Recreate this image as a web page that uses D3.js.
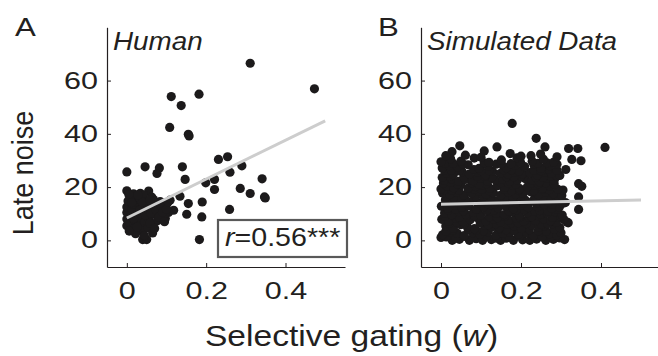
<!DOCTYPE html>
<html>
<head>
<meta charset="utf-8">
<script src="https://cdn.jsdelivr.net/npm/d3@7"></script>
<style>
  body { margin: 0; background: #fff; }
  svg text { font-family: "Liberation Sans", Arial, Helvetica, sans-serif; fill: #231f20; }
</style>
</head>
<body>
<svg id="chart" width="658" height="356"></svg>
<script>
// values
const xTicks = [0, 0.2, 0.4];
const yTicks = [0, 20, 40, 60];
const panelLetters = ['A', 'B'];
const panelTitles = ['Human', 'Simulated Data'];
const rValue = '0.56***';

// panel A: human subjects [w, late noise]
const humanData = [
  [0.311, 66.5], [0.473, 56.9], [0.112, 54], [0.182, 54.9], [0.137, 50.6], [0.108, 42.4],
  [0.155, 39.8], [0.157, 39.2], [0, 25.7], [0.046, 27.6], [0.082, 27.2], [0.076, 25.1],
  [0.14, 27.6], [0.147, 22.9], [0.231, 30.4], [0.254, 31.4], [0.29, 28], [0.26, 25.6],
  [0.341, 23.1], [0.221, 22.9], [0.199, 21.6], [0.221, 19.1], [0.286, 19.5], [0.311, 17.6],
  [0.347, 16.3], [0, 18.6], [0.017, 17.5], [0.034, 17.7], [0.055, 18.5], [0.067, 15.3],
  [0.19, 14.4], [0.155, 13.8], [0.134, 16.6], [0.109, 15.1], [0.118, 11.3], [0.097, 8.2],
  [0.151, 9.8], [0.189, 8.8], [0.259, 11.6], [0.349, 15.9], [0.183, 0.3], [0.04, 0.3],
  [0.05, 0.3], [0.105, 10.5],
  [0, 5.5], [0, 8], [0, 10.5], [0, 12.5], [0.003, 14.8], [0.008, 6.5], [0.01, 9.2],
  [0.012, 11.8], [0.015, 16], [0.018, 4.5], [0.02, 7.5], [0.024, 13.5], [0.027, 10],
  [0.03, 5.8], [0.032, 15.5], [0.035, 8.6], [0.038, 12], [0.04, 3.8], [0.042, 17],
  [0.045, 6.8], [0.048, 10.8], [0.05, 14], [0.053, 4.8], [0.056, 8], [0.06, 12.6],
  [0.063, 16.2], [0.066, 6], [0.07, 9.8], [0.073, 13.2], [0.077, 7.4], [0.08, 11],
  [0.084, 14.6], [0.088, 8.8], [0.092, 12], [0.096, 10], [0.065, 2.8], [0.044, 1.8],
  [0.022, 2.5], [0.005, 17.2], [0.1, 13.5],
  [0.006, 3.5], [0.014, 13.7], [0.026, 5], [0.033, 11.3], [0.039, 14.4], [0.047, 9.4],
  [0.052, 11.8], [0.058, 6.4], [0.061, 10.2], [0.069, 14.7], [0.074, 11.4], [0.081, 8.7],
  [0.086, 13.1], [0.09, 10.6], [0.058, 15.2], [0.028, 17], [0.017, 8.2], [0.1, 11.7],
  [0.095, 7], [0.104, 14.4], [0.07, 4.5], [0.012, 14.2]
];

// panel B: simulated subjects [w, late noise]
const simData = [
  [0, 1.1], [0.028, 0], [0.046, 0.4], [0.071, 0], [0.088, 0.6], [0.104, 0], [0.126, 0.3],
  [0.149, 0], [0.163, 0.8], [0.181, 0], [0.204, 0.2], [0.222, 0], [0.239, 0.5], [0.262, 0],
  [0.281, 0.4], [0.309, 0.3],
  [0.013, 1.3], [0.037, 0.9], [0.058, 1.5], [0.081, 1.1], [0.114, 1.4], [0.139, 0.8],
  [0.171, 1.2], [0.197, 1.6], [0.229, 1.0], [0.253, 1.3], [0.274, 1.5], [0.297, 0.9],
  [0.004, 2.1], [0.022, 3.0], [0.041, 2.6], [0.058, 1.8], [0.079, 2.9], [0.097, 2.4],
  [0.118, 3.2], [0.137, 1.9], [0.155, 2.7], [0.172, 3.1], [0.193, 2.2], [0.214, 2.8],
  [0.231, 1.7], [0.252, 3.3], [0.271, 2.5], [0.289, 2.0], [0.3, 2.9],
  [0.03, 3.9], [0.068, 4.1], [0.106, 3.6], [0.144, 4.2], [0.182, 3.7], [0.221, 4.0],
  [0.263, 3.5], [0.283, 4.3], [0.012, 3.4], [0.088, 3.8], [0.163, 4.0], [0.243, 3.6],
  [0.012, 5.4], [0.031, 4.6], [0.049, 5.9], [0.066, 5.1], [0.084, 4.4], [0.109, 5.7],
  [0.127, 5.0], [0.146, 4.7], [0.166, 6.0], [0.184, 5.3], [0.201, 4.5], [0.226, 5.8],
  [0.244, 4.9], [0.259, 5.5], [0.278, 6.2], [0.297, 4.8], [0.318, 6.6], [0.315, 6.9],
  [0.021, 6.4], [0.058, 6.1], [0.098, 6.6], [0.137, 6.2], [0.176, 6.5], [0.213, 6.3],
  [0.251, 6.0], [0.288, 6.7], [0.04, 6.8], [0.118, 5.9], [0.193, 6.6], [0.267, 6.2],
  [0.002, 7.9], [0.019, 7.2], [0.037, 8.3], [0.055, 7.0], [0.073, 7.7], [0.091, 8.5],
  [0.112, 7.3], [0.131, 8.0], [0.149, 6.9], [0.169, 7.6], [0.188, 8.4], [0.207, 7.1],
  [0.219, 8.8], [0.236, 7.5], [0.256, 8.1], [0.274, 7.4], [0.294, 8.6], [0.307, 7.8],
  [0.01, 9.0], [0.046, 8.7], [0.083, 9.2], [0.121, 8.9], [0.159, 9.1], [0.197, 8.8],
  [0.241, 9.3], [0.279, 8.6], [0.064, 9.4], [0.141, 8.5], [0.226, 8.9], [0.299, 9.1],
  [0.009, 10.3], [0.027, 9.6], [0.045, 10.8], [0.062, 9.9], [0.081, 10.5], [0.099, 9.4],
  [0.121, 10.9], [0.139, 10.1], [0.158, 9.7], [0.177, 10.6], [0.196, 9.3], [0.216, 10.4],
  [0.234, 11.0], [0.249, 9.8], [0.266, 10.2], [0.285, 10.7], [0.303, 9.5],
  [0.018, 11.4], [0.056, 11.1], [0.092, 11.6], [0.132, 11.3], [0.17, 11.0], [0.208, 11.5],
  [0.247, 11.2], [0.29, 11.7], [0.036, 11.8], [0.114, 11.2], [0.189, 11.5], [0.268, 10.9],
  [0.001, 12.8], [0.017, 12.1], [0.034, 13.2], [0.052, 12.4], [0.069, 13.0], [0.088, 11.8],
  [0.106, 12.6], [0.124, 13.4], [0.143, 12.2], [0.161, 12.9], [0.181, 11.9], [0.199, 13.1],
  [0.218, 12.3], [0.241, 12.7], [0.259, 13.3], [0.277, 12.0], [0.296, 12.5], [0.344, 11.6],
  [0.025, 14.0], [0.06, 13.8], [0.095, 14.1], [0.134, 13.7], [0.171, 14.2], [0.206, 13.9],
  [0.238, 14.0], [0.278, 13.6], [0.043, 14.3], [0.115, 13.8], [0.188, 14.1], [0.258, 13.7],
  [0.305, 13.9],
  [0.011, 15.2], [0.029, 14.6], [0.047, 15.7], [0.064, 14.9], [0.083, 15.4], [0.102, 14.3],
  [0.119, 15.9], [0.137, 14.8], [0.156, 15.3], [0.174, 14.5], [0.193, 15.8], [0.211, 15.1],
  [0.229, 14.7], [0.247, 15.6], [0.268, 14.4], [0.287, 15.0], [0.311, 14.2], [0.344, 16.3],
  [0.013, 16.5], [0.05, 16.2], [0.087, 16.7], [0.124, 16.3], [0.162, 16.6], [0.198, 16.1],
  [0.235, 16.4], [0.272, 16.8], [0.031, 16.0], [0.106, 16.6], [0.18, 16.3], [0.255, 16.5],
  [0.295, 16.2],
  [0.004, 17.8], [0.022, 17.2], [0.039, 18.1], [0.057, 17.0], [0.076, 17.7], [0.094, 18.4],
  [0.113, 17.3], [0.131, 17.9], [0.149, 16.9], [0.168, 18.2], [0.187, 17.4], [0.205, 17.6],
  [0.224, 18.3], [0.243, 17.1], [0.262, 18.0], [0.281, 17.5], [0.302, 16.8],
  [0.008, 19.0], [0.044, 18.8], [0.083, 19.1], [0.12, 18.7], [0.158, 19.2], [0.195, 18.9],
  [0.232, 18.6], [0.27, 19.0], [0.027, 18.8], [0.102, 19.1], [0.176, 18.7], [0.252, 19.2],
  [0.305, 18.9],
  [0, 19.3], [0.015, 20.4], [0.032, 19.8], [0.05, 20.9], [0.067, 19.5], [0.087, 20.2],
  [0.104, 20.7], [0.122, 19.6], [0.141, 20.5], [0.159, 19.9], [0.178, 20.8], [0.197, 19.4],
  [0.216, 20.1], [0.235, 20.6], [0.254, 19.7], [0.273, 20.3], [0.292, 19.2], [0.344, 21.3],
  [0.352, 20.3],
  [0.006, 21.5], [0.041, 21.2], [0.077, 21.6], [0.113, 21.3], [0.15, 21.7], [0.187, 21.1],
  [0.224, 21.4], [0.262, 21.6], [0.024, 21.8], [0.095, 21.0], [0.168, 21.5], [0.243, 21.3],
  [0.283, 21.2],
  [0.008, 22.6], [0.026, 23.1], [0.044, 22.2], [0.061, 22.9], [0.08, 22.4], [0.098, 23.3],
  [0.117, 22.1], [0.135, 22.8], [0.154, 23.0], [0.172, 22.3], [0.191, 22.7], [0.21, 23.2],
  [0.228, 22.5], [0.246, 22.0], [0.265, 23.4], [0.283, 22.6],
  [0.021, 24.0], [0.057, 23.8], [0.091, 24.1], [0.127, 23.7], [0.164, 23.9], [0.2, 24.2],
  [0.237, 23.8], [0.273, 24.0], [0.003, 23.6], [0.11, 24.1], [0.182, 23.9], [0.255, 23.7],
  [0.29, 24.2],
  [0.014, 25.3], [0.031, 24.7], [0.053, 25.8], [0.071, 24.9], [0.092, 25.5], [0.111, 24.6],
  [0.129, 25.9], [0.148, 25.1], [0.167, 24.8], [0.185, 25.6], [0.204, 25.0], [0.222, 25.4],
  [0.241, 24.5], [0.259, 25.7], [0.276, 25.2], [0.297, 24.4],
  [0.008, 26.4], [0.045, 26.1], [0.082, 26.6], [0.12, 26.2], [0.157, 26.5], [0.195, 26.0],
  [0.232, 26.3], [0.268, 26.7], [0.026, 26.4], [0.1, 26.2], [0.176, 26.5], [0.25, 26.1],
  [0.29, 26.3],
  [0.003, 27.2], [0.02, 28.1], [0.041, 27.6], [0.068, 28.4], [0.095, 27.0], [0.118, 27.9],
  [0.138, 28.6], [0.163, 27.3], [0.186, 28.2], [0.209, 27.7], [0.232, 28.5], [0.25, 27.1],
  [0.272, 28.0], [0.312, 26.6],
  [0.011, 29.0], [0.055, 28.7], [0.108, 29.1], [0.151, 28.8], [0.199, 29.2], [0.242, 28.9],
  [0.29, 28.6], [0.03, 29.0], [0.175, 28.8], [0.265, 29.1],
  [0, 29.5], [0.024, 30.6], [0.05, 29.8], [0.083, 30.9], [0.12, 29.3], [0.151, 30.2],
  [0.19, 31.0], [0.228, 29.7], [0.256, 30.5], [0.282, 29.4], [0.327, 30.4], [0.35, 29.9],
  [0.0275, 33.3], [0.047, 35.5], [0.061, 32], [0.108, 33.6], [0.14, 35.1], [0.173, 32.6],
  [0.178, 43.9], [0.238, 38.3], [0.26, 35.1], [0.249, 32.4], [0.319, 34.5], [0.342, 34.5],
  [0.41, 34.9], [0.012, 31.8], [0.2, 31.6], [0.1, 31.2], [0.225, 31.8], [0.29, 31.4]
];

// least-squares lines, end points
const humanFit = [[0, 8.4], [0.5, 44.9]];
const simFit = [[0, 13.6], [0.5, 15.2]];

const svg = d3.select('#chart');
const ink = '#231f20';

// stretch a text element sideways around its own anchor
function widen(sel, k) {
	sel.each(function () {
		const t = d3.select(this);
		const x = +t.attr('x') || 0;
		t.attr('x', 0).attr('transform', `translate(${x},0) scale(${k},1)`);
	});
}

const y = d3.scaleLinear().domain([-10, 80]).range([267, 27.3]);

function drawPanel(cfg) {
	const x = d3.scaleLinear().domain([-0.05, 0.55]).range(cfg.xRange);
	const g = svg.append('g');

	// dots first, fit line on top
	g.append('g')
		.selectAll('circle')
		.data(cfg.data)
		.join('circle')
		.attr('cx', d => x(d[0]))
		.attr('cy', d => y(d[1]))
		.attr('r', 4.6)
		.attr('fill', '#1c1a1b');

	g.append('path')
		.datum(cfg.fit)
		.attr('fill', 'none')
		.attr('stroke', '#cdcdcd')
		.attr('stroke-width', 3)
		.attr('d', d3.line().x(d => x(d[0])).y(d => y(d[1])));

	// axes, ticks pointing inwards like matlab
	const xa = g.append('g')
		.attr('transform', `translate(0,${y.range()[0]})`)
		.call(d3.axisBottom(x).tickValues(xTicks).tickFormat(d3.format('')).tickSizeInner(-4).tickSizeOuter(0).tickPadding(15));
	const ya = g.append('g')
		.attr('transform', `translate(${cfg.xRange[0]},0)`)
		.call(d3.axisLeft(y).tickValues(yTicks).tickSizeInner(-4).tickSizeOuter(0).tickPadding(9));

	[xa, ya].forEach(a => {
		a.select('.domain').attr('stroke', ink).attr('stroke-width', 1.2);
		a.selectAll('.tick line').attr('stroke', ink);
		a.selectAll('text').attr('font-size', 23.5).attr('fill', ink)
			.style('font-family', '"Liberation Sans", Arial, sans-serif');
	});
	widen(xa.selectAll('text'), 1.3);
	widen(ya.selectAll('text'), 1.3);

	// panel letter and title
	svg.append('text')
		.attr('font-size', 26)
		.attr('transform', `translate(${cfg.letterX},36) scale(1.2,1)`)
		.text(cfg.letter);
	svg.append('text')
		.attr('font-size', 26)
		.attr('font-style', 'italic')
		.attr('transform', `translate(${cfg.xRange[0] + 6},50) scale(1.07,1)`)
		.text(cfg.title);

	return x;
}

drawPanel({ data: humanData, fit: humanFit, xRange: [107, 345], letter: panelLetters[0], title: panelTitles[0], letterX: 15 });
drawPanel({ data: simData, fit: simFit, xRange: [421, 661], letter: panelLetters[1], title: panelTitles[1], letterX: 378 });

// correlation box in panel A
svg.append('rect')
	.attr('x', 218).attr('y', 220)
	.attr('width', 129).attr('height', 37)
	.attr('fill', '#fff')
	.attr('stroke', '#595959')
	.attr('stroke-width', 2.2);
const rt = svg.append('text')
	.attr('font-size', 26)
	.attr('transform', 'translate(225,246) scale(1.1,1)');
rt.append('tspan').attr('font-style', 'italic').text('r');
rt.append('tspan').text('=' + rValue);

// axis titles
svg.append('text')
	.attr('font-size', 27)
	.attr('text-anchor', 'middle')
	.attr('transform', 'translate(33,173) scale(1.1,1) rotate(-90)')
	.text('Late noise');

const xt = svg.append('text')
	.attr('font-size', 30)
	.attr('text-anchor', 'middle')
	.attr('transform', 'translate(351.5,346) scale(1.12,1)');
xt.append('tspan').text('Selective gating (');
xt.append('tspan').attr('font-style', 'italic').text('w');
xt.append('tspan').text(')');
</script>
</body>
</html>
